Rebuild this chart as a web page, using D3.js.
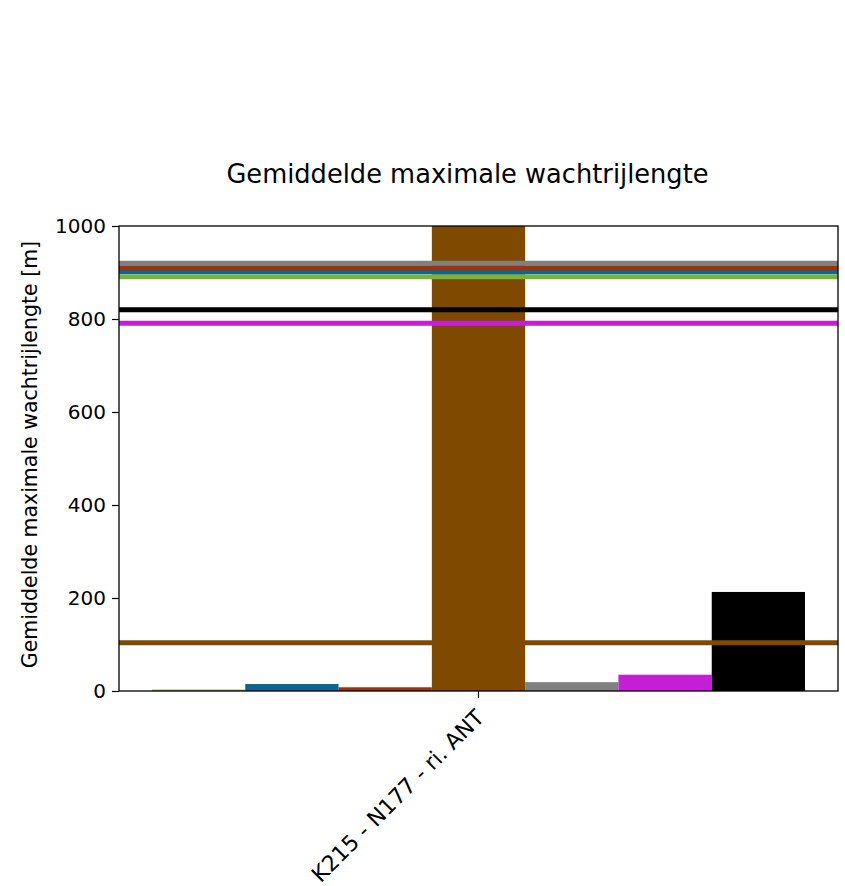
<!DOCTYPE html>
<html>
<head>
<meta charset="utf-8">
<script src="https://cdn.jsdelivr.net/npm/d3@7"></script>
<style>
  html, body { margin: 0; padding: 0; background: #fff; }
  svg text { font-family: "DejaVu Sans", sans-serif; fill: #000; }
</style>
</head>
<body>
<svg id="chart" width="845" height="886"></svg>
<script>
// Intersection / direction shown on the x axis
const categories = ["K215 - N177 - ri. ANT"];

// One bar per scenario, plus its average drawn as a horizontal reference line
const seriesNames = ["Scenario 1", "Scenario 2", "Scenario 3", "Scenario 4", "Scenario 5", "Scenario 6", "Scenario 7"];
const seriesColors = ["#77b13e", "#0a6690", "#a0320b", "#7f4a00", "#808080", "#c41fd6", "#000000"];
const barValues = [3, 15, 8, 1200, 19, 35, 213];
const avgValues = [891, 902, 910, 104, 920, 791, 820];

const yTicks = [0, 200, 400, 600, 800, 1000];
const title = "Gemiddelde maximale wachtrijlengte";
const yLabel = "Gemiddelde maximale wachtrijlengte [m]";

const svg = d3.select("#chart");
const margin = { left: 119, right: 845 - 838, top: 226, bottom: 886 - 691 };
const W = 845, H = 886;
const x0 = margin.left, x1 = W - margin.right;
const y0 = H - margin.bottom, y1 = margin.top;

const y = d3.scaleLinear().domain([0, 1000]).range([y0, y1]);
const xCat = d3.scaleBand().domain(categories).range([x0, x1]).paddingInner(0).paddingOuter(0.0505);
const xSer = d3.scaleBand().domain(seriesNames).range([0, xCat.bandwidth()]).padding(0);

svg.append("defs").append("clipPath").attr("id", "plotClip")
  .append("rect").attr("x", x0).attr("y", y1).attr("width", x1 - x0).attr("height", y0 - y1);

const plot = svg.append("g").attr("clip-path", "url(#plotClip)");

// bars
categories.forEach(cat => {
  plot.selectAll(null)
    .data(seriesNames.map((s, i) => ({ s, i, v: barValues[i] })))
    .enter().append("rect")
    .attr("x", d => xCat(cat) + xSer(d.s))
    .attr("width", xSer.bandwidth())
    .attr("y", d => y(d.v))
    .attr("height", d => y(0) - y(d.v))
    .attr("fill", d => seriesColors[d.i]);
});

// average lines across the whole plot
plot.selectAll(null)
  .data(seriesNames.map((s, i) => ({ s, i, v: avgValues[i] })))
  .enter().append("line")
  .attr("x1", x0).attr("x2", x1)
  .attr("y1", d => y(d.v)).attr("y2", d => y(d.v))
  .attr("stroke", d => seriesColors[d.i])
  .attr("stroke-width", 5);

// y axis
const yAxis = d3.axisLeft(y).tickValues(yTicks).tickSize(7).tickPadding(6).tickFormat(d3.format("d"));
const gy = svg.append("g").attr("transform", `translate(${x0},0)`).call(yAxis);
gy.select(".domain").remove();
gy.selectAll("line").attr("stroke", "#000").attr("stroke-width", 1.2);
gy.selectAll("text").style("font-size", "20px").attr("font-family", "DejaVu Sans");

// x axis
const xAxis = d3.axisBottom(xCat).tickSize(7).tickFormat("");
const gx = svg.append("g").attr("transform", `translate(0,${y0})`).call(xAxis);
gx.select(".domain").remove();
gx.selectAll("line").attr("stroke", "#000").attr("stroke-width", 1.2);

// rotated category labels
svg.selectAll(null).data(categories).enter().append("text")
  .attr("transform", d => `translate(${xCat(d) + xCat.bandwidth() / 2 - 4},${y0 + 17}) rotate(-45)`)
  .attr("text-anchor", "end")
  .attr("dy", "0.7em")
  .style("font-size", "22px")
  .text(d => d);

// frame
svg.append("rect").attr("x", x0).attr("y", y1).attr("width", x1 - x0).attr("height", y0 - y1)
  .attr("fill", "none").attr("stroke", "#000").attr("stroke-width", 1.3);

// title
svg.append("text").attr("x", (x0 + x1) / 2 - 11).attr("y", 183)
  .attr("text-anchor", "middle").style("font-size", "25.7px").text(title);

// y label
svg.append("text").attr("transform", `translate(37,${(y0 + y1) / 2 - 4}) rotate(-90)`)
  .attr("text-anchor", "middle").style("font-size", "20.5px").text(yLabel);
</script>
</body>
</html>
